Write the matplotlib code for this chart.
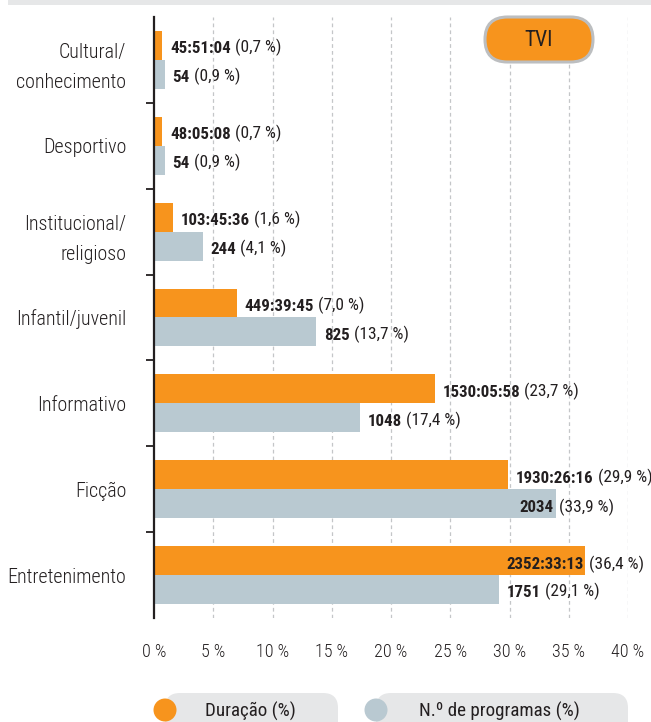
import matplotlib
matplotlib.use("Agg")
import matplotlib.pyplot as plt
from matplotlib import font_manager as fm
from matplotlib.patches import FancyBboxPatch, Circle, Rectangle
import numpy as np

# pick a narrow font if available
entries = fm.fontManager.ttflist
chosen = None
chosen_stretch = "normal"
for pref in ["Roboto Condensed", "Liberation Sans Narrow", "Open Sans Condensed", "Noto Sans Condensed"]:
    if any(e.name == pref for e in entries):
        chosen = pref
        break
if chosen is None:
    for e in entries:
        st = str(e.stretch)
        if ("condensed" in st or st in ("400", "300", "200", "100")) and e.name in ("DejaVu Sans", "Noto Sans", "Open Sans", "Roboto"):
            chosen = e.name
            chosen_stretch = "condensed"
            break
if chosen is None:
    chosen = "Roboto"
    SCALE = 0.88
else:
    SCALE = 1.0

plt.rcParams['font.family'] = [chosen, 'DejaVu Sans']
plt.rcParams['font.stretch'] = chosen_stretch

categories = ["Cultural/\nconhecimento", "Desportivo", "Institucional/\nreligioso",
              "Infantil/juvenil", "Informativo", "Ficção", "Entretenimento"]
dur_pct = [0.7, 0.7, 1.6, 7.0, 23.7, 29.9, 36.4]
dur_txt = ["45:51:04", "48:05:08", "103:45:36", "449:39:45", "1530:05:58", "1930:26:16", "2352:33:13"]
num_pct = [0.9, 0.9, 4.1, 13.7, 17.4, 33.9, 29.1]
num_txt = ["54", "54", "244", "825", "1048", "2034", "1751"]
xticks = [0, 5, 10, 15, 20, 25, 30, 35, 40]
xtick_labels = ["0 %", "5 %", "10 %", "15 %", "20 %", "25 %", "30 %", "35 %", "40 %"]
legend_labels = ["Duração (%)", "N.º de programas (%)"]
channel = "TVI"

ORANGE = "#f7941d"
GRAY = "#b9c9d1"
TXT = "#231f20"
W, H = 651, 722
FS_CAT = 14.4 * SCALE
FS_TICK = 13 * SCALE
FS_BOLD = 12.2 * SCALE
FS_PAREN = 12.4 * SCALE
FS_LEG = 13.7 * SCALE

fig = plt.figure(figsize=(W / 100, H / 100), dpi=100)
ax = fig.add_axes([154 / W, (H - 618) / H, 474 / W, 601 / H])

y = np.arange(len(categories))
bh = 0.337
ax.barh(y - bh / 2, dur_pct, height=bh, color=ORANGE, zorder=3)
ax.barh(y + bh / 2, num_pct, height=bh, color=GRAY, zorder=3)

ax.set_xlim(0, 40)
ax.set_ylim(len(categories) - 0.5, -0.5)

for s in ["top", "right", "bottom"]:
    ax.spines[s].set_visible(False)
ax.spines["left"].set_linewidth(1.6)
ax.spines["left"].set_color(TXT)
ax.spines["left"].set_zorder(5)

ax.set_xticks(xticks)
ax.set_xticklabels(xtick_labels, fontsize=FS_TICK, color=TXT, fontweight="light")
ax.tick_params(axis="x", length=0, pad=18)
ax.set_yticks(y)
ax.set_yticklabels(categories, fontsize=FS_CAT, color=TXT, linespacing=1.75, fontweight="light")
ax.tick_params(axis="y", which="major", length=0, pad=20)
ax.set_yticks(np.arange(len(categories) - 1) + 0.5, minor=True)
ax.tick_params(axis="y", which="minor", length=6, width=1.3, color=TXT)

for xv in xticks[1:]:
    ax.axvline(xv, color="#c4c6c8", lw=0.9, ls=(0, (3, 2.5)), zorder=1)

def put_label(val, ypos, bold, pct):
    paren = "(" + f"{pct:.1f}".replace(".", ",") + " %)"
    if val > 33:
        ax.annotate(bold, xy=(val, ypos), xytext=(-1.5, 0), textcoords="offset points",
                    ha="right", va="center", fontsize=FS_BOLD, fontweight="bold", color=TXT, zorder=6)
        ax.annotate(paren, xy=(val, ypos), xytext=(2.3, 0), textcoords="offset points",
                    ha="left", va="center", fontsize=FS_PAREN, color=TXT, zorder=6)
    else:
        t = ax.annotate(bold, xy=(val, ypos), xytext=(5.5, 0), textcoords="offset points",
                        ha="left", va="center", fontsize=FS_BOLD, fontweight="bold", color=TXT, zorder=6)
        ax.annotate(paren, xy=(1, 0), xycoords=t, xytext=(3, 0), textcoords="offset points",
                    ha="left", va="bottom", fontsize=FS_PAREN, color=TXT, zorder=6)

for i in range(len(categories)):
    put_label(dur_pct[i], y[i] - bh / 2 + 0.04, dur_txt[i], dur_pct[i])
    put_label(num_pct[i], y[i] + bh / 2 + 0.04, num_txt[i], num_pct[i])

# overlay in pixel coordinates for decorations
ov = fig.add_axes([0, 0, 1, 1])
ov.set_xlim(0, W)
ov.set_ylim(H, 0)
ov.axis("off")
ov.patch.set_visible(False)

ov.add_patch(Rectangle((8, 0), W - 8, 4.5, color="#e6e7e8", lw=0))

badge = FancyBboxPatch((462 + 23, 17), 154 - 46, 45, boxstyle="round,pad=0,rounding_size=22.5",
                       facecolor=ORANGE, edgecolor="#bcbec0", lw=2.2)
ov.add_patch(badge)
ov.text(539, 40, channel, ha="center", va="center", fontsize=15.5 * SCALE, color=TXT)

pills = [(165, 338, ORANGE, 250), (376, 628, GRAY, 499)]
for (cx, rx, col, tx), lab in zip(pills, legend_labels):
    ov.add_patch(FancyBboxPatch((cx + 15, 693 + 15), rx - cx - 30, 40,
                                boxstyle="round,pad=15", facecolor="#e6e7e8", edgecolor="none"))
    ov.add_patch(Circle((cx, 710), 11.5, color=col, lw=0))
    ov.text(tx, 711, lab, ha="center", va="center", fontsize=FS_LEG, color=TXT)

fig.savefig("out.png", dpi=100)
